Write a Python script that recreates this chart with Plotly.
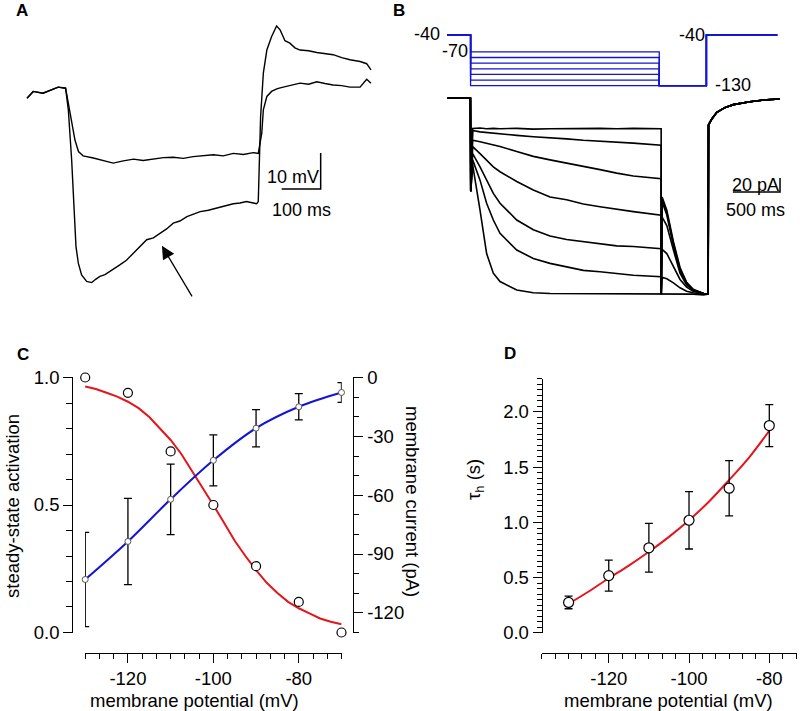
import plotly.graph_objects as go

W, H = 800, 711
FONT = "Arial, 'Liberation Sans', sans-serif"
BLUE = "#1414d2"
RED = "#e4161b"


def px(x):
    return x / W


def py(y):
    return 1 - y / H


# ---------------- panel A: voltage responses (ms, mV)
a_t_small = [0, 16, 41, 67, 80, 99, 114, 123, 132, 144, 170, 195, 221, 247, 273, 298, 324, 350,
             375, 401, 426, 452, 478, 503, 529, 555, 580, 593, 602, 606, 615, 627, 642, 657,
             679, 700, 722, 743, 764, 785, 807, 828, 854, 871, 882]
a_v_small = [-61.5, -59.6, -60.1, -59.0, -58.4, -58.7, -67.5, -73.1, -76.3, -77.5, -78.1, -78.8,
             -79.5, -78.9, -78.4, -78.8, -78.4, -78.0, -77.9, -78.2, -77.7, -77.4, -77.2, -77.5,
             -76.8, -77.1, -76.6, -76.8, -71.2, -64.7, -61.0, -59.6, -58.8, -58.4, -57.9, -57.3,
             -57.6, -56.9, -57.4, -57.8, -58.0, -58.4, -58.4, -56.2, -57.3]
a_t_large = [0, 16, 41, 67, 80, 99, 106, 114.5, 120.5, 125.6, 131.6, 140, 153, 166, 176, 187, 200,
             213, 225, 238, 255, 273, 290, 307, 324, 341, 358, 375, 392, 410, 427, 444, 465, 486,
             508, 529, 546, 563, 580, 589, 593, 596, 599, 606, 615, 627, 640, 649, 661.5, 674,
             687, 700, 722, 743, 764, 785, 807, 828, 854, 871, 882]
a_v_large = [-61.5, -59.6, -60.1, -59.0, -58.4, -58.7, -64.7, -78.6, -91.6, -102.7, -107.3, -110.6,
             -112.4, -112.7, -111.8, -111.0, -110.5, -109.6, -108.9, -107.8, -106.5, -104.5,
             -102.9, -100.8, -100.3, -99.0, -97.8, -96.2, -95.6, -94.4, -93.8, -93.0, -92.6, -92.0,
             -91.2, -90.8, -90.6, -90.2, -90.6, -90.8, -90.2, -78.6, -66.6, -54.5, -48.1, -44.4,
             -41.4, -42.5, -45.5, -46.2, -47.5, -48.1, -48.3, -48.8, -49.0, -49.4, -50.2, -50.8,
             -51.3, -51.9, -53.6]

# ---------------- panel B: protocol (mV) and currents (pA)
b_steps_mv = [-70, -80, -90, -100, -110, -120, -130]
b_proto_t = [0, 250, 250, 2250, 2250, 2750, 2750, 3500]

b_t_pre = [5, 120, 248, 252]
b_i_pre = [0, 0.5, 0, -133]
b_t_step = [272, 350, 420, 491, 562, 739, 915, 1092, 1268, 1445, 1622, 1799, 1975, 2270]
b_i_step = [
    [-43, -42.5, -43.5, -43, -43.5, -43, -44, -43.5, -43, -43.5, -43, -43.5, -43, -43.5],
    [-46, -48, -49, -50, -51, -53, -55, -56, -58, -60, -61, -63, -64, -67],
    [-60, -62, -64, -67, -69, -76, -83, -88, -93, -98, -102, -107, -111, -115],
    [-69, -79, -88, -98, -105, -119, -131, -141, -145, -151, -155, -159, -162, -167],
    [-79, -98, -117, -136, -150, -174, -188, -197, -202, -205, -208, -211, -212, -215],
    [-88, -117, -150, -174, -193, -217, -229, -236, -241, -246, -248, -251, -253, -255],
    [-95, -160, -222, -250, -262, -274, -278, -279, -279, -279, -280, -280, -280, -280],
]
b_t_post = [2271, 2280, 2330, 2400, 2470, 2540, 2610, 2720, 2768]
b_i_post = [
    [-280, -141, -160, -205, -242, -263, -273, -279, -280],
    [-280, -144, -163, -208, -244, -264, -274, -279, -280],
    [-280, -148, -167, -211, -246, -265, -274, -279, -280],
    [-280, -170, -182, -217, -250, -267, -275, -279, -280],
    [-280, -216, -222, -241, -259, -270, -276, -279, -280],
    [-280, -256, -258, -264, -271, -276, -278, -280, -280],
    [-280, -280, -280, -280, -280, -280, -280, -281, -280],
]
b_t_tail = [2772, 2805, 2860, 2950, 3035, 3210, 3390, 3530]
b_i_tail = [-38, -30, -20, -13, -9, -5, -2, -1]

# ---------------- panel C
c_v = [-130, -120, -110, -100, -90, -80, -70]
c_act = [1.0, 0.94, 0.71, 0.50, 0.26, 0.12, 0.0]
c_fit_v = [-130, -127.5, -125, -122.5, -120, -117.5, -115, -112.5, -110, -107.5, -105, -102.5,
           -100, -97.5, -95, -92.5, -90, -87.5, -85, -82.5, -80, -77.5, -75, -72.5, -70]
c_fit_act = [0.965, 0.955, 0.94, 0.925, 0.905, 0.88, 0.845, 0.80, 0.755, 0.70, 0.635, 0.57,
             0.50, 0.43, 0.36, 0.30, 0.245, 0.195, 0.155, 0.12, 0.095, 0.075, 0.055, 0.042, 0.032]
c_current = [-103, -83.6, -62.1, -42.2, -25.8, -14.9, -7.6]
c_current_err = [24, 22, 18, 13, 9.5, 6.7, 5]

# ---------------- panel D
d_v = [-130, -120, -110, -100, -90, -80]
d_tau = [0.276, 0.519, 0.771, 1.02, 1.31, 1.877]
d_tau_err = [0.057, 0.14, 0.22, 0.26, 0.25, 0.19]
d_fit_v = [-130, -125, -120, -115, -110, -105, -100, -95, -90, -85, -80]
d_fit_tau = [0.264, 0.375, 0.495, 0.61, 0.735, 0.87, 1.02, 1.19, 1.385, 1.59, 1.83]

x_ticks = [-120, -100, -80]
x_ticktext = ["-120", "-100", "-80"]
c_right_ticks = [0, -30, -60, -90, -120]
c_right_ticktext = ["0", "-30", "-60", "-90", "-120"]

fig = go.Figure()

# A
fig.add_trace(go.Scatter(x=a_t_small, y=a_v_small, mode="lines",
                         line=dict(color="black", width=1.4), xaxis="x", yaxis="y"))
fig.add_trace(go.Scatter(x=a_t_large, y=a_v_large, mode="lines",
                         line=dict(color="black", width=1.4), xaxis="x", yaxis="y"))
fig.add_trace(go.Scatter(x=[653, 753, 753], y=[-86.7, -86.7, -76.7], mode="lines",
                         line=dict(color="black", width=1.5), xaxis="x", yaxis="y"))

# B protocol
for v in b_steps_mv:
    fig.add_trace(go.Scatter(x=b_proto_t, y=[-40, -40, v, v, -130, -130, -40, -40], mode="lines",
                             line=dict(color=BLUE, width=1.3), xaxis="x2", yaxis="y6"))
# B currents
for k in range(len(b_steps_mv)):
    fig.add_trace(go.Scatter(
        x=b_t_pre + b_t_step + b_t_post + b_t_tail,
        y=b_i_pre + b_i_step[k] + b_i_post[k] + b_i_tail,
        mode="lines", line=dict(color="black", width=1.6), xaxis="x2", yaxis="y2"))
fig.add_trace(go.Scatter(x=[3030, 3530, 3530], y=[-134, -134, -114], mode="lines",
                         line=dict(color="black", width=1.5), xaxis="x2", yaxis="y2"))

# C
fig.add_trace(go.Scatter(x=c_fit_v, y=c_fit_act, mode="lines", line=dict(color=RED, width=2),
                         xaxis="x3", yaxis="y3", cliponaxis=False))
fig.add_trace(go.Scatter(x=c_v, y=c_current, mode="lines+markers",
                         line=dict(color=BLUE, width=2, shape="spline"),
                         marker=dict(size=6, color="white", line=dict(color="#555555", width=1)),
                         error_y=dict(type="data", array=c_current_err, color="black",
                                      thickness=1.3, width=4),
                         xaxis="x3", yaxis="y4", cliponaxis=False))
fig.add_trace(go.Scatter(x=c_v, y=c_act, mode="markers",
                         marker=dict(size=9, color="white", line=dict(color="black", width=1.2)),
                         xaxis="x3", yaxis="y3", cliponaxis=False))

# D
fig.add_trace(go.Scatter(x=d_fit_v, y=d_fit_tau, mode="lines",
                         line=dict(color=RED, width=2, shape="spline"),
                         xaxis="x5", yaxis="y5", cliponaxis=False))
fig.add_trace(go.Scatter(x=d_v, y=d_tau, mode="markers",
                         marker=dict(size=10, color="white", line=dict(color="black", width=1.2)),
                         error_y=dict(type="data", array=d_tau_err, color="black",
                                      thickness=1.3, width=4),
                         xaxis="x5", yaxis="y5", cliponaxis=False))

TICK_SIZE = 18.5
tickfont = dict(family=FONT, size=TICK_SIZE, color="black")
ax_base = dict(showgrid=False, zeroline=False, showline=True, linecolor="black", linewidth=1.3,
               ticks="outside", tickcolor="black", tickwidth=1.3, ticklen=9, tickfont=tickfont,
               automargin=False, tickmode="array")
hidden = dict(visible=False, showgrid=False, zeroline=False, automargin=False)


def minor(vals, ticklen=5):
    return dict(tickmode="array", tickvals=vals, ticklen=ticklen, tickwidth=1.3,
                tickcolor="black", ticks="outside", showgrid=False)


c_x_minor = [-130 + i * 10 / 3 for i in range(19)]
d_x_minor = [-80 - i * 10 / 3 for i in range(18)] + [-80 + 10 / 3, -80 + 20 / 3]

fig.update_layout(
    template="none",
    width=W, height=H, margin=dict(l=0, r=0, t=0, b=0, pad=0),
    paper_bgcolor="white", plot_bgcolor="white", showlegend=False,
    font=dict(family=FONT, size=TICK_SIZE, color="black"),
    xaxis=dict(hidden, domain=[0, 0.5], range=[-69.2, 956.4]),
    yaxis=dict(hidden, domain=[py(320), 1], range=[-123.1, -34.2]),
    xaxis2=dict(hidden, domain=[0.5, 1], range=[-498.2, 3741.8]),
    yaxis2=dict(hidden, domain=[py(320), 1], range=[-317.0, 140.6], anchor="x2"),
    yaxis6=dict(hidden, overlaying="y2", range=[-546.0, 22.1], anchor="x2"),
    xaxis3=dict(ax_base, domain=[px(85), px(341.7)], range=[-130.05, -69.95],
                anchor="free", position=py(653),
                tickvals=x_ticks, ticktext=x_ticktext, minor=minor(c_x_minor)),
    yaxis3=dict(ax_base, domain=[py(633), py(377)], range=[-0.002, 1.002],
                anchor="free", position=px(72.3),
                tickvals=[0, 0.5, 1.0], ticktext=["0.0", "0.5", "1.0"],
                minor=minor([i / 10 for i in range(11)], 6)),
    yaxis4=dict(ax_base, overlaying="y3", side="right", range=[-130.3, 0.3],
                anchor="free", position=px(353.3),
                tickvals=c_right_ticks, ticktext=c_right_ticktext,
                minor=minor([-10 * i for i in range(14)])),
    xaxis5=dict(ax_base, domain=[px(541.7), px(797)], range=[-136.7, -73.1],
                anchor="free", position=py(653),
                tickvals=x_ticks, ticktext=x_ticktext, minor=minor(d_x_minor)),
    yaxis5=dict(ax_base, domain=[py(633.3), py(378.5)], range=[-0.003, 2.303],
                anchor="free", position=px(541.7),
                tickvals=[0, 0.5, 1.0, 1.5, 2.0], ticktext=["0.0", "0.5", "1.0", "1.5", "2.0"],
                minor=minor([i * 0.05 for i in range(47)])),
)

notes = [
    ("<b>A</b>", 22, 10, 0, 17), ("<b>B</b>", 399, 10, 0, 17),
    ("<b>C</b>", 23, 354, 0, 17), ("<b>D</b>", 510, 353, 0, 17),
    ("-40", 427, 34, 0, 18), ("-70", 455, 51, 0, 18), ("-40", 692, 35, 0, 18),
    ("-130", 733, 85, 0, 18),
    ("10 mV", 293, 177, 0, 18), ("100 ms", 301.5, 210, 0, 18),
    ("20 pA", 755, 185, 0, 18), ("500 ms", 755, 210, 0, 18),
    ("steady-state activation", 12, 506, -90, 18.5),
    ("membrane current (pA)", 413, 501, 90, 18.5),
    ("membrane potential (mV)", 194, 700, 0, 18.5),
    ("membrane potential (mV)", 668, 700, 0, 18.5),
    ("τ<sub>h</sub> (s)", 475, 480, -90, 18.5),
]
for text, x, y, ang, size in notes:
    fig.add_annotation(text=text, x=px(x), y=py(y), xref="paper", yref="paper",
                       showarrow=False, textangle=ang, xanchor="center", yanchor="middle",
                       font=dict(family=FONT, size=size, color="black"))

# arrow in panel A
fig.add_annotation(x=346, y=-102.5, xref="x", yref="y", ax=31, ay=52, text="",
                   showarrow=True, arrowhead=2, arrowsize=2, arrowwidth=1.3, arrowcolor="black")

fig.write_html("out.html", config={"displayModeBar": False},
               post_script="document.body.style.margin = '0px';")
